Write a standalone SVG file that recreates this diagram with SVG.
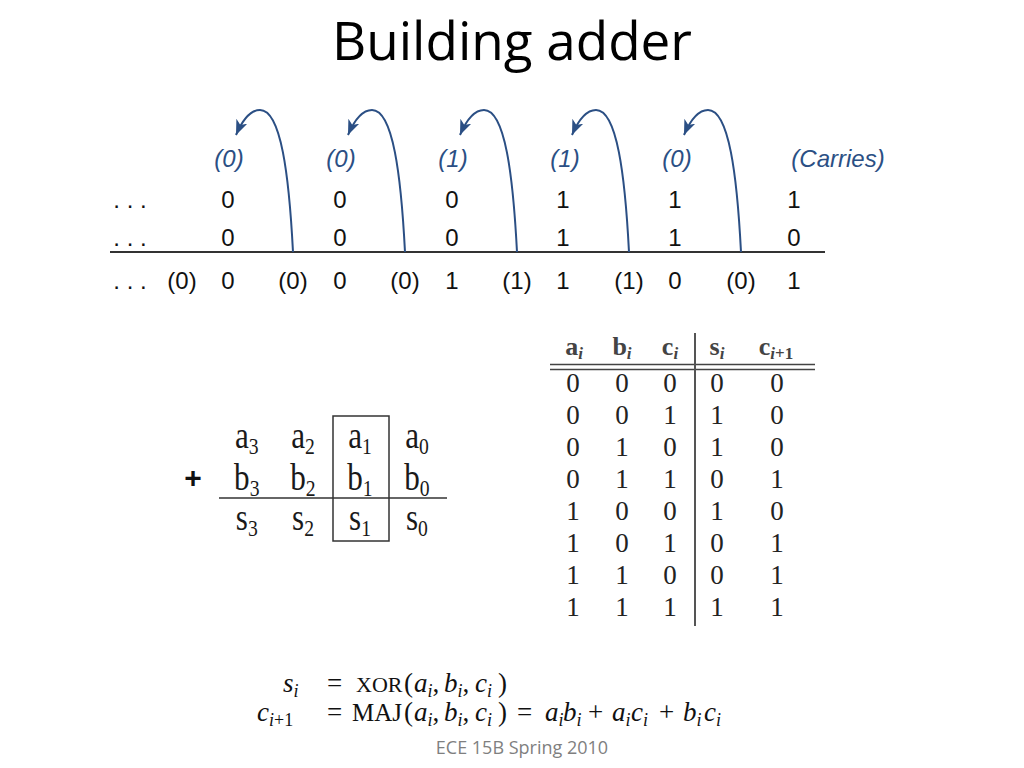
<svg xmlns="http://www.w3.org/2000/svg" width="1024" height="768" viewBox="0 0 1024 768">
<style>
.title{font-family:"Open Sans","Liberation Sans",sans-serif;font-size:53px;fill:#000}
.foot{font-family:"Open Sans","Liberation Sans",sans-serif;font-size:18px;fill:#7f7f7f}
.num{font-family:"Liberation Sans",Arial,sans-serif;font-size:24px;fill:#111;text-anchor:middle}
.car{font-family:"Liberation Sans",Arial,sans-serif;font-size:24px;font-style:italic;fill:#2b4f84;text-anchor:middle}
.arc{fill:none;stroke:#2b4f84;stroke-width:2}
.rule{stroke:#333;stroke-width:2}
.tv{font-family:"Liberation Serif","Times New Roman",serif;font-size:27px;fill:#222;text-anchor:middle}
.th{font-family:"Liberation Serif","Times New Roman",serif;font-size:26px;font-weight:bold;fill:#444;text-anchor:middle}
.ad{font-family:"Liberation Serif","Times New Roman",serif;font-size:38px;fill:#1a1a1a;text-anchor:middle}
.eq{font-family:"Liberation Serif","Times New Roman",serif;font-size:27px;fill:#111}
.it{font-style:italic}
.sb{font-size:18px;font-style:italic}
</style>
<defs>
<marker id="ah" markerUnits="userSpaceOnUse" markerWidth="18" markerHeight="14" refX="15" refY="6" orient="auto">
<path d="M0,0 L15,6 L0,12 L4,6 z" fill="#2b4f84"/>
</marker>
</defs>
<rect width="1024" height="768" fill="#fff"/>
<text class="title" x="512" y="60" text-anchor="middle">Building adder</text>

<g id="carries">
<text class="car" x="229" y="167">(0)</text>
<text class="car" x="341" y="167">(0)</text>
<text class="car" x="453" y="167">(1)</text>
<text class="car" x="565" y="167">(1)</text>
<text class="car" x="677" y="167">(0)</text>
<text class="car" x="838" y="167">(Carries)</text>
</g>
<g id="row-a">
<text class="num" x="130" y="208">. . .</text>
<text class="num" x="228" y="208">0</text>
<text class="num" x="340" y="208">0</text>
<text class="num" x="452" y="208">0</text>
<text class="num" x="563" y="208">1</text>
<text class="num" x="675" y="208">1</text>
<text class="num" x="794" y="208">1</text>
</g>
<g id="row-b">
<text class="num" x="130" y="246">. . .</text>
<text class="num" x="228" y="246">0</text>
<text class="num" x="340" y="246">0</text>
<text class="num" x="452" y="246">0</text>
<text class="num" x="563" y="246">1</text>
<text class="num" x="675" y="246">1</text>
<text class="num" x="794" y="246">0</text>
</g>
<line class="rule" x1="110" y1="252" x2="825" y2="252"/>
<g id="row-sum">
<text class="num" x="130" y="289">. . .</text>
<text class="num" x="182" y="289">(0)</text>
<text class="num" x="228" y="289">0</text>
<text class="num" x="293" y="289">(0)</text>
<text class="num" x="340" y="289">0</text>
<text class="num" x="405" y="289">(0)</text>
<text class="num" x="452" y="289">1</text>
<text class="num" x="517" y="289">(1)</text>
<text class="num" x="563" y="289">1</text>
<text class="num" x="629" y="289">(1)</text>
<text class="num" x="675" y="289">0</text>
<text class="num" x="741" y="289">(0)</text>
<text class="num" x="794" y="289">1</text>
</g>
<g id="connectors">
<path class="arc" marker-end="url(#ah)" d="M293,252 C289,175 281,110 260,110 C250,110 242,121 236,135"/>
<path class="arc" marker-end="url(#ah)" d="M405,252 C401,175 393,110 372,110 C362,110 354,121 348,135"/>
<path class="arc" marker-end="url(#ah)" d="M517,252 C513,175 505,110 484,110 C474,110 466,121 460,135"/>
<path class="arc" marker-end="url(#ah)" d="M629,252 C625,175 617,110 596,110 C586,110 578,121 572,135"/>
<path class="arc" marker-end="url(#ah)" d="M741,252 C737,175 729,110 708,110 C698,110 690,121 684,135"/>
</g>

<g id="truth-table">
<text class="th" x="574" y="355">a<tspan font-size="17" font-style="italic" dy="4">i</tspan></text>
<text class="th" x="622" y="355">b<tspan font-size="17" font-style="italic" dy="4">i</tspan></text>
<text class="th" x="670" y="355">c<tspan font-size="17" font-style="italic" dy="4">i</tspan></text>
<text class="th" x="717" y="355">s<tspan font-size="17" font-style="italic" dy="4">i</tspan></text>
<text class="th" x="776" y="355">c<tspan font-size="17" dy="4"><tspan font-style="italic">i</tspan>+1</tspan></text>
<line x1="550" y1="364.5" x2="815" y2="364.5" stroke="#444" stroke-width="1.5"/>
<line x1="550" y1="369.5" x2="815" y2="369.5" stroke="#444" stroke-width="1.5"/>
<line x1="695" y1="333" x2="695" y2="626" stroke="#555" stroke-width="2"/>
<g class="tv">
<text x="573" y="392">0</text><text x="622" y="392">0</text><text x="670" y="392">0</text><text x="717" y="392">0</text><text x="777" y="392">0</text>
<text x="573" y="424">0</text><text x="622" y="424">0</text><text x="670" y="424">1</text><text x="717" y="424">1</text><text x="777" y="424">0</text>
<text x="573" y="456">0</text><text x="622" y="456">1</text><text x="670" y="456">0</text><text x="717" y="456">1</text><text x="777" y="456">0</text>
<text x="573" y="488">0</text><text x="622" y="488">1</text><text x="670" y="488">1</text><text x="717" y="488">0</text><text x="777" y="488">1</text>
<text x="573" y="520">1</text><text x="622" y="520">0</text><text x="670" y="520">0</text><text x="717" y="520">1</text><text x="777" y="520">0</text>
<text x="573" y="552">1</text><text x="622" y="552">0</text><text x="670" y="552">1</text><text x="717" y="552">0</text><text x="777" y="552">1</text>
<text x="573" y="584">1</text><text x="622" y="584">1</text><text x="670" y="584">0</text><text x="717" y="584">0</text><text x="777" y="584">1</text>
<text x="573" y="616">1</text><text x="622" y="616">1</text><text x="670" y="616">1</text><text x="717" y="616">1</text><text x="777" y="616">1</text>
</g>
</g>

<g id="adder">
<text x="193" y="488" font-family="Liberation Sans,Arial,sans-serif" font-size="30" font-weight="bold" fill="#111" text-anchor="middle">+</text>
<g transform="scale(0.82,1)">
<text class="ad" x="301" y="448">a<tspan font-size="24" dy="6">3</tspan></text>
<text class="ad" x="369.5" y="448">a<tspan font-size="24" dy="6">2</tspan></text>
<text class="ad" x="439" y="448">a<tspan font-size="24" dy="6">1</tspan></text>
<text class="ad" x="508.5" y="448">a<tspan font-size="24" dy="6">0</tspan></text>
<text class="ad" x="301" y="490">b<tspan font-size="24" dy="6">3</tspan></text>
<text class="ad" x="369.5" y="490">b<tspan font-size="24" dy="6">2</tspan></text>
<text class="ad" x="439" y="490">b<tspan font-size="24" dy="6">1</tspan></text>
<text class="ad" x="508.5" y="490">b<tspan font-size="24" dy="6">0</tspan></text>
<text class="ad" x="301" y="530">s<tspan font-size="24" dy="6">3</tspan></text>
<text class="ad" x="369.5" y="530">s<tspan font-size="24" dy="6">2</tspan></text>
<text class="ad" x="439" y="530">s<tspan font-size="24" dy="6">1</tspan></text>
<text class="ad" x="508.5" y="530">s<tspan font-size="24" dy="6">0</tspan></text>
</g>
<line x1="219" y1="498" x2="447" y2="498" stroke="#333" stroke-width="1.5"/>
<rect x="333" y="416" width="56" height="125" fill="none" stroke="#333" stroke-width="1.5"/>
</g>

<g id="equations">
<text class="eq" y="692"><tspan class="it" x="283">s</tspan><tspan class="sb" dy="5">i</tspan></text>
<text class="eq" y="692"><tspan x="327">=</tspan><tspan x="356" font-size="22">XOR</tspan><tspan x="404">(</tspan><tspan class="it" x="414">a</tspan><tspan class="sb" dy="5">i</tspan><tspan dy="-5">,</tspan><tspan class="it" x="444">b</tspan><tspan class="sb" dy="5">i</tspan><tspan dy="-5">,</tspan><tspan class="it" x="475">c</tspan><tspan class="sb" dy="5">i</tspan><tspan dy="-5" x="498">)</tspan></text>
<text class="eq" y="721"><tspan class="it" x="257">c</tspan><tspan font-size="18" dy="5"><tspan class="it">i</tspan>+1</tspan></text>
<text class="eq" y="721"><tspan x="327">=</tspan><tspan x="352" font-size="25">MAJ</tspan><tspan x="404">(</tspan><tspan class="it" x="414">a</tspan><tspan class="sb" dy="5">i</tspan><tspan dy="-5">,</tspan><tspan class="it" x="444">b</tspan><tspan class="sb" dy="5">i</tspan><tspan dy="-5">,</tspan><tspan class="it" x="475">c</tspan><tspan class="sb" dy="5">i</tspan><tspan dy="-5" x="498">)</tspan><tspan x="517">=</tspan><tspan class="it" x="545">a</tspan><tspan class="sb" dy="5">i</tspan><tspan class="it" dy="-5" x="563">b</tspan><tspan class="sb" dy="5">i</tspan><tspan dy="-5" x="588">+</tspan><tspan class="it" x="612">a</tspan><tspan class="sb" dy="5">i</tspan><tspan class="it" dy="-5" x="631">c</tspan><tspan class="sb" dy="5">i</tspan><tspan dy="-5" x="659">+</tspan><tspan class="it" x="683">b</tspan><tspan class="sb" dy="5">i</tspan><tspan class="it" dy="-5" x="704">c</tspan><tspan class="sb" dy="5">i</tspan></text>
</g>

<text class="foot" x="522" y="754" text-anchor="middle">ECE 15B Spring 2010</text>
</svg>
